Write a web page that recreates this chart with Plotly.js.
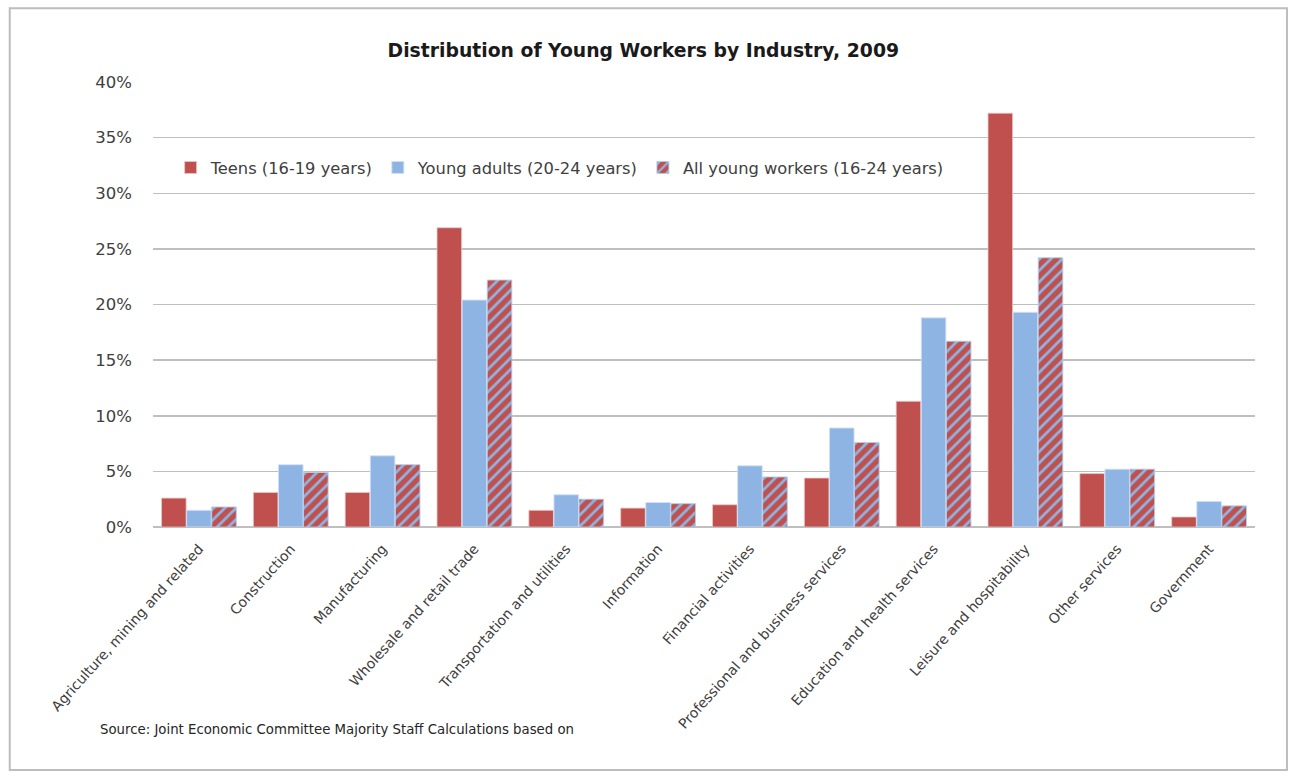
<!DOCTYPE html>
<html>
<head>
<meta charset="utf-8">
<script src="https://cdn.plot.ly/plotly-3.0.1.min.js"></script>
<style>
  html, body { margin: 0; padding: 0; background: #ffffff; }
  #chart { width: 1297px; height: 777px; }
</style>
</head>
<body>
<div id="chart"></div>
<script>
const categories = [
  "Agriculture, mining and related",
  "Construction",
  "Manufacturing",
  "Wholesale and retail trade",
  "Transportation and utilities",
  "Information",
  "Financial activities",
  "Professional and business services",
  "Education and health services",
  "Leisure and hospitability",
  "Other services",
  "Government"
];
const teens = [2.6, 3.1, 3.1, 26.9, 1.5, 1.7, 2.0, 4.4, 11.3, 37.2, 4.8, 0.9];
const youngAdults = [1.5, 5.6, 6.4, 20.4, 2.9, 2.2, 5.5, 8.9, 18.8, 19.3, 5.2, 2.3];
const allYoung = [1.8, 4.9, 5.6, 22.2, 2.5, 2.1, 4.5, 7.6, 16.7, 24.2, 5.2, 1.9];
const seriesNames = ["Teens (16-19 years)", "Young adults (20-24 years)", "All young workers (16-24 years)"];

const red = "#C0504D";
const blue = "#8EB4E3";
const fontFam = "DejaVu Sans, sans-serif";

const traces = [
  { type: "bar", name: seriesNames[0], x: categories, y: teens,
    marker: { color: red, line: { color: "rgba(230,200,200,0.8)", width: 1 } } },
  { type: "bar", name: seriesNames[1], x: categories, y: youngAdults,
    marker: { color: blue, line: { color: "rgba(210,225,245,0.9)", width: 1 } } },
  { type: "bar", name: seriesNames[2], x: categories, y: allYoung,
    marker: { color: red, line: { color: "rgba(180,205,235,0.9)", width: 1 },
      pattern: { shape: "/", bgcolor: red, fgcolor: blue, size: 8, solidity: 0.35, fillmode: "replace" } } }
];

const layout = {
  width: 1297, height: 777,
  margin: { l: 153, r: 42, t: 82, b: 250 },
  paper_bgcolor: "#ffffff", plot_bgcolor: "#ffffff",
  font: { family: fontFam, color: "#404040" },
  title: { text: "<b>Distribution of Young Workers by Industry, 2009</b>",
    font: { size: 18.8, color: "#1a1a1a", family: fontFam },
    x: 0.496, xanchor: "center", y: 0.935, yanchor: "middle" },
  barmode: "group", bargap: 0.18, bargroupgap: 0.02,
  xaxis: { type: "category", tickangle: -48, tickfont: { size: 14, color: "#404040", family: fontFam },
    showgrid: false, showline: false, ticks: "", ticklabelstandoff: 10 },
  yaxis: { range: [0, 40], dtick: 5, ticksuffix: "%", tickfont: { size: 16.5, color: "#404040", family: fontFam },
    showgrid: true, gridcolor: "#BFBFBF", gridwidth: 1.5, zeroline: true, zerolinecolor: "#BFBFBF",
    zerolinewidth: 1.5, showline: false, ticks: "", ticklabelstandoff: 20, fixedrange: true },
  legend: { orientation: "h", x: 0.016, xanchor: "left", y: 0.807, yanchor: "middle",
    font: { size: 16.3, color: "#404040", family: fontFam }, bgcolor: "rgba(255,255,255,0)", itemwidth: 30 },
  showlegend: true,
  annotations: [
    { xref: "paper", yref: "paper", x: -0.05, y: -0.455, xanchor: "left", yanchor: "middle",
      text: "Source: Joint Economic Committee Majority Staff Calculations based on",
      showarrow: false, font: { size: 13.3, color: "#262626", family: fontFam } }
  ],
  shapes: [
    { type: "rect", xref: "paper", yref: "paper", x0: -0.13, x1: 1.029, y0: -0.546, y1: 1.166,
      line: { color: "#BDBDBD", width: 2 }, fillcolor: "rgba(0,0,0,0)", layer: "below" }
  ]
};

Plotly.newPlot("chart", traces, layout, { displayModeBar: false, staticPlot: true });
</script>
</body>
</html>
